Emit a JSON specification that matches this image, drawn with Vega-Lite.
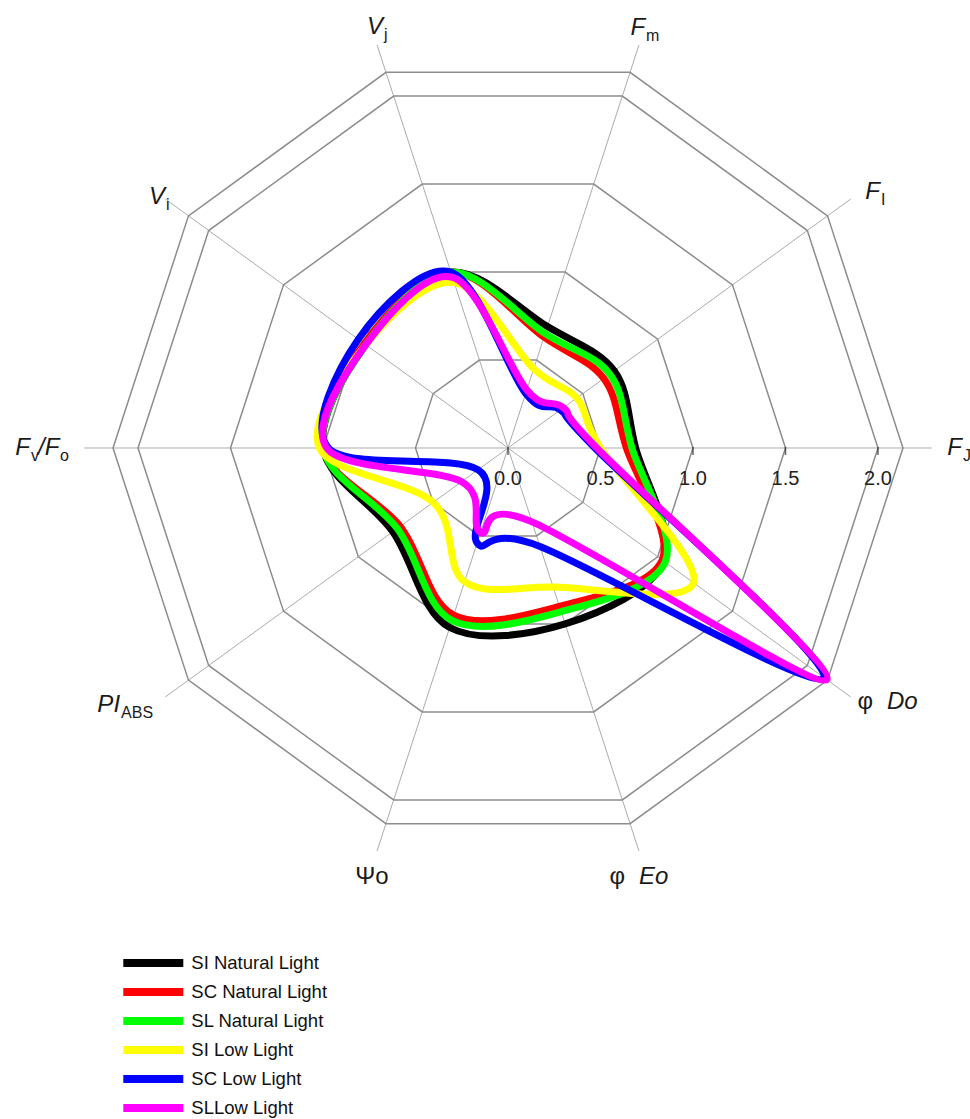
{
  "$schema": "https://vega.github.io/schema/vega-lite/v6.json",
  "width": 970,
  "height": 1119,
  "padding": 0,
  "autosize": {"type": "none"},
  "background": "white",
  "config": {"view": {"stroke": null}, "font": "Liberation Sans"},
  "datasets": {
    "series": [
      {"series": "SI Natural Light", "idx": 0, "value": 0.69},
      {"series": "SI Natural Light", "idx": 1, "value": 0.71},
      {"series": "SI Natural Light", "idx": 2, "value": 0.69},
      {"series": "SI Natural Light", "idx": 3, "value": 1.0},
      {"series": "SI Natural Light", "idx": 4, "value": 0.95},
      {"series": "SI Natural Light", "idx": 5, "value": 1.0},
      {"series": "SI Natural Light", "idx": 6, "value": 0.77},
      {"series": "SI Natural Light", "idx": 7, "value": 1.02},
      {"series": "SI Natural Light", "idx": 8, "value": 1.0},
      {"series": "SI Natural Light", "idx": 9, "value": 1.04},
      {"series": "SC Natural Light", "idx": 0, "value": 0.64},
      {"series": "SC Natural Light", "idx": 1, "value": 0.64},
      {"series": "SC Natural Light", "idx": 2, "value": 0.63},
      {"series": "SC Natural Light", "idx": 3, "value": 1.0},
      {"series": "SC Natural Light", "idx": 4, "value": 0.96},
      {"series": "SC Natural Light", "idx": 5, "value": 1.0},
      {"series": "SC Natural Light", "idx": 6, "value": 0.72},
      {"series": "SC Natural Light", "idx": 7, "value": 0.95},
      {"series": "SC Natural Light", "idx": 8, "value": 0.9},
      {"series": "SC Natural Light", "idx": 9, "value": 1.03},
      {"series": "SL Natural Light", "idx": 0, "value": 0.67},
      {"series": "SL Natural Light", "idx": 1, "value": 0.68},
      {"series": "SL Natural Light", "idx": 2, "value": 0.65},
      {"series": "SL Natural Light", "idx": 3, "value": 1.0},
      {"series": "SL Natural Light", "idx": 4, "value": 0.95},
      {"series": "SL Natural Light", "idx": 5, "value": 1.0},
      {"series": "SL Natural Light", "idx": 6, "value": 0.74},
      {"series": "SL Natural Light", "idx": 7, "value": 0.98},
      {"series": "SL Natural Light", "idx": 8, "value": 0.93},
      {"series": "SL Natural Light", "idx": 9, "value": 1.05},
      {"series": "SI Low Light", "idx": 0, "value": 0.5},
      {"series": "SI Low Light", "idx": 1, "value": 0.46},
      {"series": "SI Low Light", "idx": 2, "value": 0.45},
      {"series": "SI Low Light", "idx": 3, "value": 0.94},
      {"series": "SI Low Light", "idx": 4, "value": 0.95},
      {"series": "SI Low Light", "idx": 5, "value": 1.02},
      {"series": "SI Low Light", "idx": 6, "value": 0.5},
      {"series": "SI Low Light", "idx": 7, "value": 0.76},
      {"series": "SI Low Light", "idx": 8, "value": 0.79},
      {"series": "SI Low Light", "idx": 9, "value": 1.24},
      {"series": "SC Low Light", "idx": 0, "value": 0.47},
      {"series": "SC Low Light", "idx": 1, "value": 0.35},
      {"series": "SC Low Light", "idx": 2, "value": 0.31},
      {"series": "SC Low Light", "idx": 3, "value": 1.0},
      {"series": "SC Low Light", "idx": 4, "value": 1.0},
      {"series": "SC Low Light", "idx": 5, "value": 0.97},
      {"series": "SC Low Light", "idx": 6, "value": 0.2},
      {"series": "SC Low Light", "idx": 7, "value": 0.54},
      {"series": "SC Low Light", "idx": 8, "value": 0.56},
      {"series": "SC Low Light", "idx": 9, "value": 2.11},
      {"series": "SLLow Light", "idx": 0, "value": 0.48},
      {"series": "SLLow Light", "idx": 1, "value": 0.37},
      {"series": "SLLow Light", "idx": 2, "value": 0.33},
      {"series": "SLLow Light", "idx": 3, "value": 0.97},
      {"series": "SLLow Light", "idx": 4, "value": 0.95},
      {"series": "SLLow Light", "idx": 5, "value": 0.98},
      {"series": "SLLow Light", "idx": 6, "value": 0.31},
      {"series": "SLLow Light", "idx": 7, "value": 0.48},
      {"series": "SLLow Light", "idx": 8, "value": 0.42},
      {"series": "SLLow Light", "idx": 9, "value": 2.13}
    ],
    "rings": [
      {"level": 0.5, "idx": [0, 1, 2, 3, 4, 5, 6, 7, 8, 9]},
      {"level": 1.0, "idx": [0, 1, 2, 3, 4, 5, 6, 7, 8, 9]},
      {"level": 1.5, "idx": [0, 1, 2, 3, 4, 5, 6, 7, 8, 9]},
      {"level": 2.0, "idx": [0, 1, 2, 3, 4, 5, 6, 7, 8, 9]},
      {"level": 2.135, "idx": [0, 1, 2, 3, 4, 5, 6, 7, 8, 9]}
    ],
    "axes": [
      {"idx": 0, "name": "FJ"},
      {"idx": 1, "name": "FI"},
      {"idx": 2, "name": "Fm"},
      {"idx": 3, "name": "Vj"},
      {"idx": 4, "name": "Vi"},
      {"idx": 5, "name": "Fv/Fo"},
      {"idx": 6, "name": "PIABS"},
      {"idx": 7, "name": "PsiO"},
      {"idx": 8, "name": "phiEo"},
      {"idx": 9, "name": "phiDo"}
    ],
    "ticks": [
      {"v": 0.0, "label": "0.0"},
      {"v": 0.5, "label": "0.5"},
      {"v": 1.0, "label": "1.0"},
      {"v": 1.5, "label": "1.5"},
      {"v": 2.0, "label": "2.0"}
    ],
    "labels": [
      {"idx": 0, "seg": "main", "text": "F"},
      {"idx": 0, "seg": "sub", "text": "J"},
      {"idx": 1, "seg": "main", "text": "F"},
      {"idx": 1, "seg": "sub", "text": "I"},
      {"idx": 2, "seg": "main", "text": "F"},
      {"idx": 2, "seg": "sub", "text": "m"},
      {"idx": 3, "seg": "main", "text": "V"},
      {"idx": 3, "seg": "sub", "text": "j"},
      {"idx": 4, "seg": "main", "text": "V"},
      {"idx": 4, "seg": "sub", "text": "i"},
      {"idx": 5, "seg": "main", "text": "F"},
      {"idx": 5, "seg": "sub", "text": "v"},
      {"idx": 5, "seg": "main2", "text": "/F"},
      {"idx": 5, "seg": "sub2", "text": "o"},
      {"idx": 6, "seg": "main", "text": "PI"},
      {"idx": 6, "seg": "sub", "text": "ABS"},
      {"idx": 7, "seg": "plain", "text": "Ψo"},
      {"idx": 8, "seg": "greek", "text": "φ"},
      {"idx": 8, "seg": "ital", "text": "Eo"},
      {"idx": 9, "seg": "greek", "text": "φ"},
      {"idx": 9, "seg": "ital", "text": "Do"}
    ]
  },
  "encoding": {
    "x": {"field": "x", "type": "quantitative", "scale": {"domain": [-2.74595, 2.4973], "nice": false, "zero": false}, "axis": null},
    "y": {"field": "y", "type": "quantitative", "scale": {"domain": [-3.62703, 2.42162], "nice": false, "zero": false}, "axis": null}
  },
  "layer": [
    {
      "data": {"name": "axes"},
      "transform": [
        {"calculate": "0", "as": "x"},
        {"calculate": "0", "as": "y"},
        {"calculate": "2.29*cos(datum.idx*PI/5)", "as": "ex"},
        {"calculate": "2.29*sin(datum.idx*PI/5)", "as": "ey"}
      ],
      "mark": {"type": "rule", "stroke": "#ababab", "strokeWidth": 1},
      "encoding": {"x2": {"field": "ex"}, "y2": {"field": "ey"}}
    },
    {
      "data": {"name": "rings"},
      "transform": [
        {"flatten": ["idx"]},
        {"calculate": "datum.level*cos(datum.idx*PI/5)", "as": "x"},
        {"calculate": "datum.level*sin(datum.idx*PI/5)", "as": "y"}
      ],
      "mark": {"type": "line", "interpolate": "linear-closed", "stroke": "#8c8c8c", "strokeWidth": 1.5},
      "encoding": {"detail": {"field": "level", "type": "nominal"}, "order": {"field": "idx", "type": "quantitative"}}
    },
    {
      "data": {"name": "ticks"},
      "transform": [
        {"calculate": "datum.v", "as": "x"},
        {"calculate": "0", "as": "y"}
      ],
      "layer": [
        {"mark": {"type": "tick", "orient": "vertical", "size": 8, "thickness": 1.5, "color": "#222222", "yOffset": 3}},
        {"mark": {"type": "text", "align": "center", "baseline": "middle", "dy": 31, "fontSize": 20, "color": "#222222"}, "encoding": {"text": {"field": "label"}}}
      ]
    },
    {
      "data": {"name": "series"},
      "transform": [
        {"calculate": "datum.value*cos(datum.idx*PI/5)", "as": "x"},
        {"calculate": "datum.value*sin(datum.idx*PI/5)", "as": "y"}
      ],
      "mark": {"type": "line", "interpolate": "cardinal-closed", "strokeWidth": 7, "strokeCap": "round", "strokeJoin": "round"},
      "encoding": {
        "order": {"field": "idx", "type": "quantitative"},
        "color": {
          "field": "series",
          "type": "nominal",
          "scale": {
            "domain": ["SI Natural Light", "SC Natural Light", "SL Natural Light", "SI Low Light", "SC Low Light", "SLLow Light"],
            "range": ["#000000", "#ff0000", "#00ff00", "#ffff00", "#0000ff", "#ff00ff"]
          },
          "legend": {
            "title": null,
            "orient": "none",
            "legendX": 140.3,
            "legendY": 950,
            "padding": 0,
            "symbolType": "M-3.464,0L3.464,0",
            "symbolSize": 300,
            "symbolStrokeWidth": 8,
            "labelFont": "Liberation Sans",
            "labelFontSize": 18.5,
            "labelColor": "#111111",
            "labelOffset": 25,
            "labelLimit": 400,
            "rowPadding": -9
          }
        }
      }
    },
    {
      "data": {"name": "labels"},
      "transform": [
        {"calculate": "[2.454, 2.011, 0.741, -0.676, -1.854, -2.584, -2.097, -0.735, 0.670, 2.011][datum.idx]", "as": "x"},
        {"calculate": "[0, 1.384, 2.270, 2.276, 1.357, 0, -1.389, -2.319, -2.319, -1.373][datum.idx]", "as": "y"}
      ],
      "encoding": {"text": {"field": "text"}},
      "layer": [
        {"transform": [{"filter": "datum.seg == 'main'"}], "mark": {"type": "text", "align": "right", "baseline": "middle", "fontSize": 24, "fontStyle": "italic", "color": "#1a1a1a"}},
        {"transform": [{"filter": "datum.seg == 'sub'"}], "mark": {"type": "text", "align": "left", "baseline": "middle", "dx": 1, "dy": 8, "fontSize": 16, "color": "#1a1a1a"}},
        {"transform": [{"filter": "datum.seg == 'main2'"}], "mark": {"type": "text", "align": "left", "baseline": "middle", "dx": 8, "fontSize": 24, "fontStyle": "italic", "color": "#1a1a1a"}},
        {"transform": [{"filter": "datum.seg == 'sub2'"}], "mark": {"type": "text", "align": "left", "baseline": "middle", "dx": 30, "dy": 8, "fontSize": 16, "color": "#1a1a1a"}},
        {"transform": [{"filter": "datum.seg == 'plain'"}], "mark": {"type": "text", "align": "center", "baseline": "middle", "fontSize": 24, "color": "#1a1a1a"}},
        {"transform": [{"filter": "datum.seg == 'greek'"}], "mark": {"type": "text", "align": "right", "baseline": "middle", "dx": -7, "fontSize": 24, "color": "#1a1a1a"}},
        {"transform": [{"filter": "datum.seg == 'ital'"}], "mark": {"type": "text", "align": "left", "baseline": "middle", "dx": 7, "fontSize": 24, "fontStyle": "italic", "color": "#1a1a1a"}}
      ]
    }
  ]
}
